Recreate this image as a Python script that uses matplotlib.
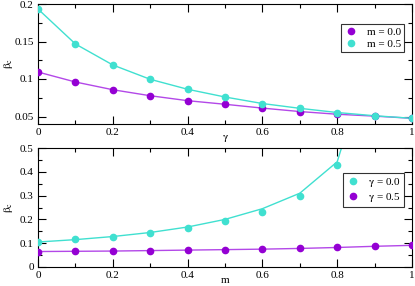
import matplotlib
matplotlib.use("Agg")
import matplotlib.pyplot as plt
from matplotlib.ticker import MultipleLocator

plt.rcParams['font.family'] = ['Liberation Serif', 'DejaVu Serif']
plt.rcParams['mathtext.fontset'] = 'stix'

# Top panel: beta_c vs gamma
gamma = [0.0, 0.1, 0.2, 0.3, 0.4, 0.5, 0.6, 0.7, 0.8, 0.9, 1.0]
beta_m00 = [0.1093, 0.0960, 0.0857, 0.0777, 0.0711, 0.0663, 0.0612, 0.0566, 0.0530, 0.0505, 0.0476]
beta_m05 = [0.1933, 0.1467, 0.1187, 0.0996, 0.0863, 0.0760, 0.0673, 0.0609, 0.0553, 0.0510, 0.0476]

# Bottom panel: beta_c vs m
m_vals = [0.0, 0.1, 0.2, 0.3, 0.4, 0.5, 0.6, 0.7, 0.8, 0.9, 1.0]
m_pts_g00 = [0.0, 0.1, 0.2, 0.3, 0.4, 0.5, 0.6, 0.7, 0.8]
beta_g00 = [0.105, 0.116, 0.128, 0.144, 0.165, 0.193, 0.232, 0.297, 0.430]
m_line_g00 = [0.0, 0.1, 0.2, 0.3, 0.4, 0.5, 0.6, 0.7, 0.8, 0.9]
line_g00 = [0.105, 0.115, 0.128, 0.145, 0.168, 0.200, 0.245, 0.310, 0.442, 0.950]
beta_g05 = [0.065, 0.066, 0.067, 0.069, 0.071, 0.073, 0.075, 0.078, 0.082, 0.087, 0.091]

purple = '#9400d3'
purple_line = '#b348e8'
cyan = '#40e0d0'

W, H = 415, 286
fig = plt.figure(figsize=(W / 100, H / 100), dpi=100)

def px_axes(x0, y0, x1, y1):
    return fig.add_axes([x0 / W, 1 - y1 / H, (x1 - x0) / W, (y1 - y0) / H])

ax1 = px_axes(38, 4, 412, 124)
ax2 = px_axes(38, 148, 412, 267)

def style(ax):
    ax.tick_params(which='both', direction='in', top=True, right=True, labelsize=8, pad=3, width=0.8)
    ax.tick_params(which='major', length=6)
    ax.tick_params(which='minor', length=3)
    for s in ax.spines.values():
        s.set_linewidth(0.8)

ms = 4.5
ax1.plot(gamma, beta_m00, color=purple_line, lw=1.0, zorder=2)
ax1.plot(gamma, beta_m05, color=cyan, lw=1.0, zorder=2)
ax1.plot(gamma, beta_m00, 'o', color=purple, ms=ms, ls='none', label='m = 0.0', zorder=3)
ax1.plot(gamma, beta_m05, 'o', color=cyan, ms=ms, ls='none', label='m = 0.5', zorder=3)
ax1.set_xlim(0, 1)
ax1.set_ylim(0.04, 0.2)
ax1.xaxis.set_minor_locator(MultipleLocator(0.1))
ax1.yaxis.set_minor_locator(MultipleLocator(0.025))
ax1.set_xticks([0, 0.2, 0.4, 0.6, 0.8, 1.0], ['0', '0.2', '0.4', '0.6', '0.8', '1'])
ax1.set_yticks([0.05, 0.1, 0.15, 0.2], ['0.05', '0.1', '0.15', '0.2'])
ax1.set_xlabel(r'$\mathrm{\gamma}$', fontsize=8, va='center', ha='center')
ax1.xaxis.set_label_coords(0.5, -0.117)
ax1.set_ylabel(r'$\mathrm{\beta_c}$', fontsize=8, va='center', ha='center')
ax1.yaxis.set_label_coords(-0.08, 0.5)
style(ax1)
leg1 = ax1.legend(loc='upper right', bbox_to_anchor=(0.979, 0.833), fontsize=8, frameon=True,
                  fancybox=False, edgecolor='black', handletextpad=0.8, borderpad=0.3,
                  labelspacing=0.15, handlelength=1.2, borderaxespad=0)
leg1.get_frame().set_linewidth(0.8)

ax2.plot(m_line_g00, line_g00, color=cyan, lw=1.0, zorder=2)
ax2.plot(m_vals, beta_g05, color=purple_line, lw=1.0, zorder=2)
ax2.plot(m_pts_g00, beta_g00, 'o', color=cyan, ms=ms, ls='none', label=r'$\mathrm{\gamma}$ = 0.0', zorder=3)
ax2.plot(m_vals, beta_g05, 'o', color=purple, ms=ms, ls='none', label=r'$\mathrm{\gamma}$ = 0.5', zorder=3)
ax2.set_xlim(0, 1)
ax2.set_ylim(0, 0.5)
ax2.xaxis.set_minor_locator(MultipleLocator(0.1))
ax2.yaxis.set_minor_locator(MultipleLocator(0.05))
ax2.set_xticks([0, 0.2, 0.4, 0.6, 0.8, 1.0], ['0', '0.2', '0.4', '0.6', '0.8', '1'])
ax2.set_yticks([0, 0.1, 0.2, 0.3, 0.4, 0.5], ['0', '0.1', '0.2', '0.3', '0.4', '0.5'])
ax2.set_xlabel('m', fontsize=8, va='center', ha='center')
ax2.xaxis.set_label_coords(0.5, -0.115)
ax2.set_ylabel(r'$\mathrm{\beta_c}$', fontsize=8, va='center', ha='center')
ax2.yaxis.set_label_coords(-0.08, 0.5)
style(ax2)
leg2 = ax2.legend(loc='upper right', bbox_to_anchor=(0.979, 0.79), fontsize=8, frameon=True,
                  fancybox=False, edgecolor='black', handletextpad=0.8, borderpad=0.3,
                  labelspacing=0.15, handlelength=1.2, borderaxespad=0)
leg2.get_frame().set_linewidth(0.8)

fig.savefig('out.png', dpi=100)
